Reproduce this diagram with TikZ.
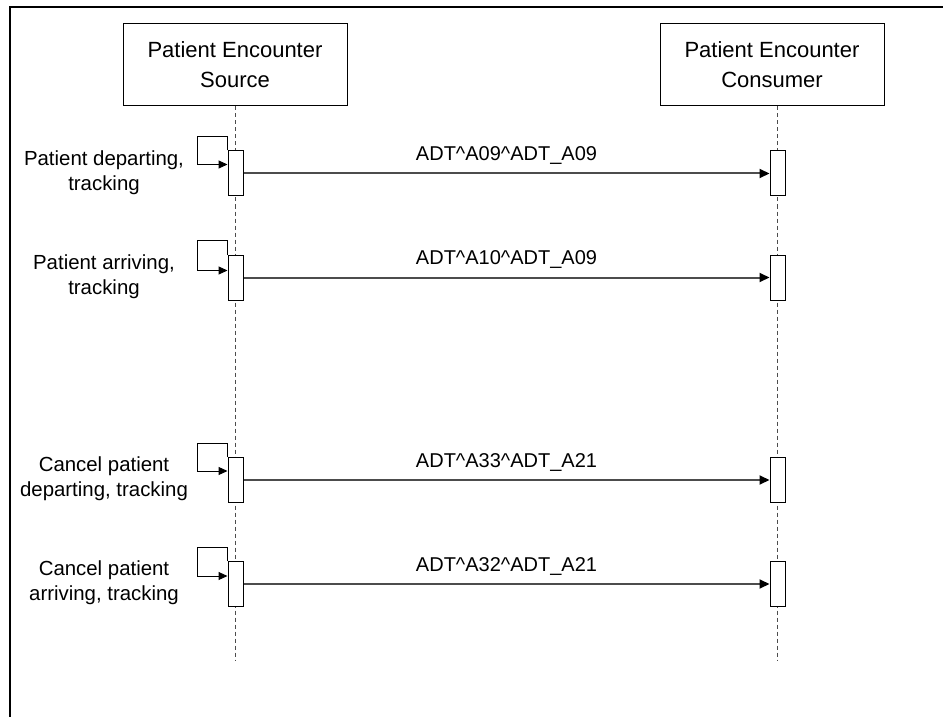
\documentclass[tikz,border=0pt]{standalone}
\usepackage{fontspec}
\setmainfont{Liberation Sans}
\usetikzlibrary{arrows.meta,positioning}

\tikzset{
  lifebox/.style={draw, line width=0.5pt, minimum width=112pt, minimum height=41pt,
    align=center, font=\fontsize{11}{15}\selectfont},
  lifeline/.style={line width=0.5pt, black!70, dash pattern=on 2pt off 1.5pt},
  actbox/.style={draw, fill=white, line width=0.5pt, minimum width=7.5pt, minimum height=22.5pt, inner sep=0pt},
  loopmsg/.style={line width=0.5pt, -{Triangle[length=4.5pt, width=4pt]}},
  msg/.style={line width=1pt, black!70, -{Triangle[length=5pt, width=4.5pt, color=black]}},
  msglabel/.style={font=\fontsize{10}{12}\selectfont, above=0.5pt},
  sidelabel/.style={align=center, font=\fontsize{10.2}{12.5}\selectfont}
}

\begin{document}
\begin{tikzpicture}[x=0.5pt, y=-0.5pt]
  \useasboundingbox (0,0) rectangle (943,717);

  % frame
  \draw [line width=1pt] (10,717) -- (10,7.5) -- (943,7.5);

  % participants
  \node [lifebox] (src) at (235,65) {Patient Encounter\\Source};
  \node [lifebox] (cons) at (772,65) {Patient Encounter\\Consumer};
  \coordinate (srcend) at (235,660);
  \coordinate (consend) at (777,660);
  \draw [lifeline] (src.south -| srcend) -- (srcend);
  \draw [lifeline] (cons.south -| consend) -- (consend);

  % activations
  \node [actbox] (sa1) at (235.5,173.5) {};
  \node [actbox] (ca1) at (777.5,173.5) {};
  \node [actbox] (sa2) at (235.5,277.5) {};
  \node [actbox] (ca2) at (777.5,277.5) {};
  \node [actbox] (sa3) at (235.5,480) {};
  \node [actbox] (ca3) at (777.5,480) {};
  \node [actbox] (sa4) at (235.5,584) {};
  \node [actbox] (ca4) at (777.5,584) {};

  % triggers
  \draw [loopmsg] (sa1.north west) -- ++(0,-14) -- ++(-30,0) -- ++(0,28) -- ++(30,0);
  \draw [loopmsg] (sa2.north west) -- ++(0,-14) -- ++(-30,0) -- ++(0,30) -- ++(30,0);
  \draw [loopmsg] (sa3.north west) -- ++(0,-14) -- ++(-30,0) -- ++(0,28) -- ++(30,0);
  \draw [loopmsg] (sa4.north west) -- ++(0,-14) -- ++(-30,0) -- ++(0,29) -- ++(30,0);

  \node [sidelabel] (t1) at (104,173) {Patient departing,\\tracking};
  \node [sidelabel] (t2) at (104,277) {Patient arriving,\\tracking};
  \node [sidelabel] (t3) at (104,479) {Cancel patient\\departing, tracking};
  \node [sidelabel] (t4) at (104,583) {Cancel patient\\arriving, tracking};

  % messages
  \draw [msg] (sa1.east) -- (ca1.west) node [msglabel, midway, black] (m1) {ADT\^{}A09\^{}ADT\_A09};
  \draw [msg] (sa2.east) -- (ca2.west) node [msglabel, midway, black] (m2) {ADT\^{}A10\^{}ADT\_A09};
  \draw [msg] (sa3.east) -- (ca3.west) node [msglabel, midway, black] (m3) {ADT\^{}A33\^{}ADT\_A21};
  \draw [msg] (sa4.east) -- (ca4.west) node [msglabel, midway, black] (m4) {ADT\^{}A32\^{}ADT\_A21};
\end{tikzpicture}
\end{document}
